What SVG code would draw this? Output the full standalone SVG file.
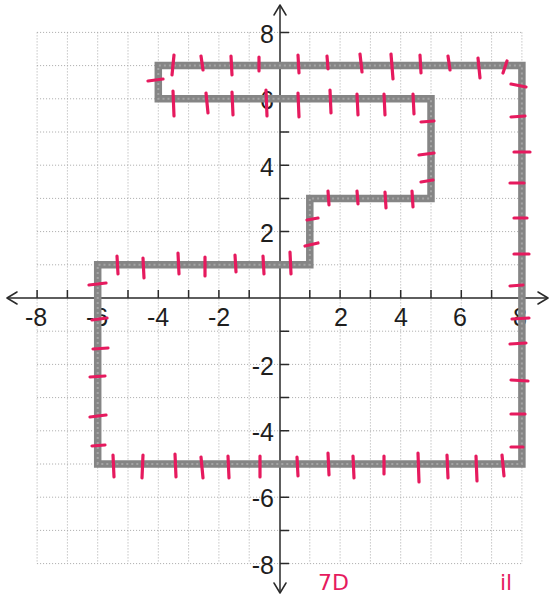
<svg xmlns="http://www.w3.org/2000/svg" width="550" height="596" viewBox="0 0 550 596">
<style>
.grid{fill:none;stroke:#a8a8a8;stroke-width:1;stroke-dasharray:1 2}
.axis{fill:none;stroke:#2a2a2a;stroke-width:1.5}
.arrow{fill:none;stroke:#2a2a2a;stroke-width:1.5;stroke-linecap:round;stroke-linejoin:round}
.lbl{font-family:"Liberation Sans",Arial,sans-serif;font-size:25px;fill:#1e1e1e}
.shape{fill:none;stroke:#858585;stroke-width:7.5;stroke-linejoin:miter}
.shape2{fill:none;stroke:#a5a5a5;stroke-width:2;stroke-dasharray:2 3;stroke-linejoin:miter}
.mark{fill:none;stroke:#e61a5e;stroke-width:3.2;stroke-linecap:round}
.hand{font-family:"DejaVu Sans",sans-serif;fill:#e61a5e}
</style>
<rect width="550" height="596" fill="#ffffff"/>
<g id="grid">
<path class="grid" d="M37.1 32.4V563.6M67.4 32.4V563.6M97.7 32.4V563.6M128 32.4V563.6M158.3 32.4V563.6M188.6 32.4V563.6M218.9 32.4V563.6M249.2 32.4V563.6M309.8 32.4V563.6M340.1 32.4V563.6M370.4 32.4V563.6M400.7 32.4V563.6M431 32.4V563.6M461.3 32.4V563.6M491.6 32.4V563.6M521.9 32.4V563.6
M37.1 32.4H521.9M37.1 65.6H521.9M37.1 98.8H521.9M37.1 132H521.9M37.1 165.2H521.9M37.1 198.4H521.9M37.1 231.6H521.9M37.1 264.8H521.9M37.1 331.2H521.9M37.1 364.4H521.9M37.1 397.6H521.9M37.1 430.8H521.9M37.1 464H521.9M37.1 497.2H521.9M37.1 530.4H521.9M37.1 563.6H521.9"/>
</g>
<g id="axes">
<path class="axis" d="M7 298H548M280 5V593"/>
<path class="arrow" d="M17 292L7 298L17 304M538 292L548 298L538 304M274 15L280 5L286 15M274 583L280 593L286 583"/>
<path class="axis" d="M37.1 298V290M67.4 298V290M97.7 298V290M128 298V290M158.3 298V290M188.6 298V290M218.9 298V290M249.2 298V290M309.8 298V290M340.1 298V290M370.4 298V290M400.7 298V290M431 298V290M461.3 298V290M491.6 298V290M521.9 298V290
M280 32.4H289M280 65.6H289M280 98.8H289M280 132H289M280 165.2H289M280 198.4H289M280 231.6H289M280 264.8H289M280 331.2H289M280 364.4H289M280 397.6H289M280 430.8H289M280 464H289M280 497.2H289M280 530.4H289M280 563.6H289"/>
</g>
<g id="labels" class="lbl">
<text x="36" y="326" text-anchor="middle">-8</text>
<text x="97" y="326" text-anchor="middle">-6</text>
<text x="158" y="326" text-anchor="middle">-4</text>
<text x="219" y="326" text-anchor="middle">-2</text>
<text x="341" y="326" text-anchor="middle">2</text>
<text x="401" y="326" text-anchor="middle">4</text>
<text x="460" y="326" text-anchor="middle">6</text>
<text x="520" y="326" text-anchor="middle">8</text>
<text x="274" y="43" text-anchor="end">8</text>
<text x="274" y="109" text-anchor="end">6</text>
<text x="274" y="176" text-anchor="end">4</text>
<text x="274" y="242" text-anchor="end">2</text>
<text x="274" y="375" text-anchor="end">-2</text>
<text x="274" y="441" text-anchor="end">-4</text>
<text x="274" y="507" text-anchor="end">-6</text>
<text x="274" y="574" text-anchor="end">-8</text>
</g>
<g id="figure">
<path class="shape" d="M97.7 464V264.8H309.8V198.4H431V98.8H158.3V65.6H521.9V464Z"/>
<path class="shape2" d="M97.7 464V264.8H309.8V198.4H431V98.8H158.3V65.6H521.9V464Z"/>
</g>
<g id="marks">
<path class="mark" d="M174 55L172 75M201 56L203 70M231 56L232 75M259 57L259 71M298 55L299 73M327 56L328 69M360 54L362 72M391 54L393 79M420 55L421 73M448 56L450 70M478 58L480 78M507 61L503 73
M173 91L174 116M206 93L208 113M232 92L233 115M266 90L267 116M298 93L299 117M330 90L331 113M357 94L358 115M384 94L385 115M413 94L414 114
M421 122L434 121M419 155L434 153M421 182L433 180
M328 191L329 205M357 191L358 204M385 192L386 208M412 191L413 207
M307 220L318 218M305 246L318 243
M117 256L118 274M143 258L144 278M178 253L179 274M205 257L205 276M235 255L236 272M263 256L264 274M290 252L291 274
M89 285L106 283M92 320L107 318M93 349L108 348M90 377L105 376M90 417L106 415M92 446L105 445
M113 455L114 477M143 455L142 478M175 454L176 477M201 457L203 478M228 456L229 478M260 456L260 477M297 457L298 476M328 453L329 475M353 456L354 478M384 456L384 474M418 453L419 482M447 455L448 478M476 456L477 481M502 455L504 476
M511 84L526 87M511 117L525 116M514 152L530 152M510 183L524 183M514 218L527 218M514 254L529 254M510 286L523 285M512 319L529 318M510 344L526 343M511 380L528 381M511 414L525 414M511 447L523 447
M148 81L163 79"/>
</g>
<g id="handwriting">
<text class="hand" x="318" y="590" font-size="22">7D</text>
<text class="hand" x="500" y="590" font-size="22">il</text>
</g>
</svg>
